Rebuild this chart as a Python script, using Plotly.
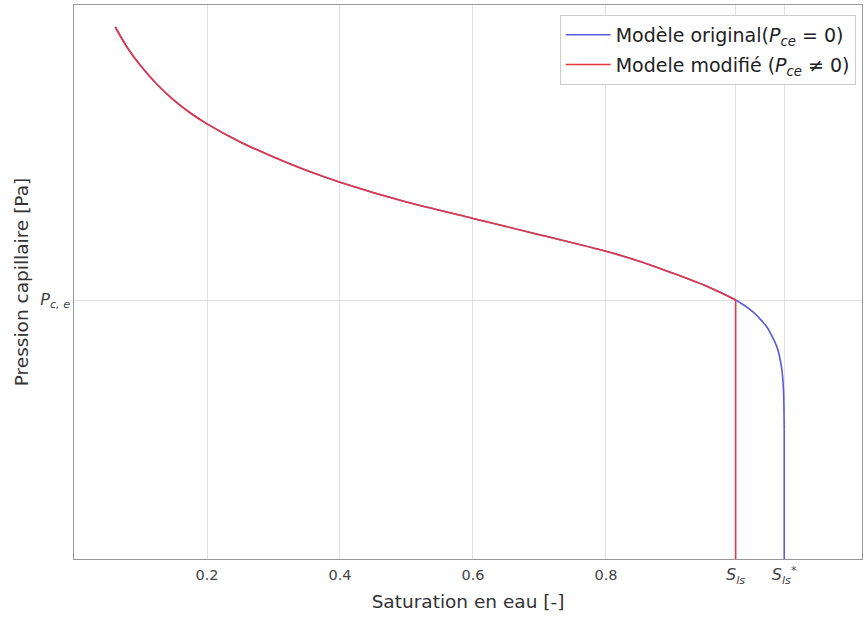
import plotly.graph_objects as go

# Saturation values and capillary pressure (relative to P_ce)
sat_modified = [0.062, 0.080, 0.100, 0.125, 0.150, 0.175, 0.200, 0.250, 0.300, 0.350,
                0.400, 0.500, 0.600, 0.700, 0.800, 0.850, 0.900, 0.950, 0.995]
pc_modified = [2.054, 1.975, 1.905, 1.832, 1.772, 1.722, 1.680, 1.610, 1.552, 1.500,
               1.455, 1.378, 1.315, 1.252, 1.188, 1.150, 1.104, 1.055, 1.0]

sat_original_tail = [1.021, 1.042, 1.057, 1.064, 1.067, 1.068]
pc_original_tail = [0.954, 0.896, 0.819, 0.740, 0.650, 0.500]

S_ls = 0.995
S_ls_star = 1.068
P_ce = 1.0
P_min = 0.0

sat_original = sat_modified + sat_original_tail
pc_original = pc_modified + pc_original_tail

x_tickvals = [0.2, 0.4, 0.6, 0.8, S_ls, S_ls_star]
x_ticktext = ["0.2", "0.4", "0.6", "0.8",
              "<span style='font-size:16px'><i>S</i><sub><i>ls</i></sub></span>",
              "<span style='font-size:16px'><i>S</i><sub><i>ls</i></sub><sup>*</sup></span>"]
y_tickvals = [P_ce]
y_ticktext = ["<span style='font-size:16px'><i>P</i><sub><i>c, e</i></sub></span>"]

legend_original = "Modèle original(<i>P</i><sub><i>ce</i></sub> = 0)"
legend_modified = "Modele modifié (<i>P</i><sub><i>ce</i></sub> ≠ 0)"

blue = "#5a5ae0"
red = "#e8363f"

fig = go.Figure()
fig.add_trace(go.Scatter(x=sat_original, y=pc_original, mode="lines",
                         line=dict(color=blue, width=1.6, shape="spline", smoothing=0.6),
                         name=legend_original, legendgroup="o"))
fig.add_trace(go.Scatter(x=[S_ls_star, S_ls_star], y=[pc_original_tail[-1], P_min], mode="lines",
                         line=dict(color=blue, width=1.6), showlegend=False, legendgroup="o"))
fig.add_trace(go.Scatter(x=sat_modified, y=pc_modified, mode="lines",
                         line=dict(color=red, width=1.6, shape="spline", smoothing=0.6),
                         name=legend_modified, legendgroup="m"))
fig.add_trace(go.Scatter(x=[S_ls, S_ls], y=[P_ce, P_min], mode="lines",
                         line=dict(color=red, width=1.6), showlegend=False, legendgroup="m"))

axis_common = dict(showline=True, linecolor="#999999", linewidth=1, mirror=True,
                   showgrid=True, gridcolor="#e0e0e0", gridwidth=1, automargin=False,
                   zeroline=False, ticks="", tickfont=dict(size=14.5, color="#444"))

fig.update_xaxes(range=[0.0, 1.185], tickmode="array", tickvals=x_tickvals,
                 ticktext=x_ticktext, ticklabelstandoff=3,
                 title=dict(text="Saturation en eau [-]", font=dict(size=18.5, color="#333"),
                            standoff=9),
                 **axis_common)
fig.update_yaxes(range=[0.0, 2.139], tickmode="array", tickvals=y_tickvals,
                 ticktext=y_ticktext,
                 title=dict(text="Pression capillaire [Pa]", font=dict(size=18.5, color="#333"),
                            standoff=6),
                 **axis_common)

fig.update_layout(
    width=864, height=617,
    margin=dict(l=74, r=2, t=5, b=58),
    paper_bgcolor="white", plot_bgcolor="white",
    font=dict(family="DejaVu Sans", color="#333"),
    legend=dict(x=0.992, y=0.982, xanchor="right", yanchor="top",
                bgcolor="rgba(255,255,255,0.9)", bordercolor="#cccccc", borderwidth=1,
                font=dict(size=19, color="#222"), tracegroupgap=2, itemwidth=45),
    showlegend=True,
)

fig.write_html("out.html", config={"displayModeBar": False},
               post_script="document.body.style.margin='0';document.body.style.overflow='hidden';")
